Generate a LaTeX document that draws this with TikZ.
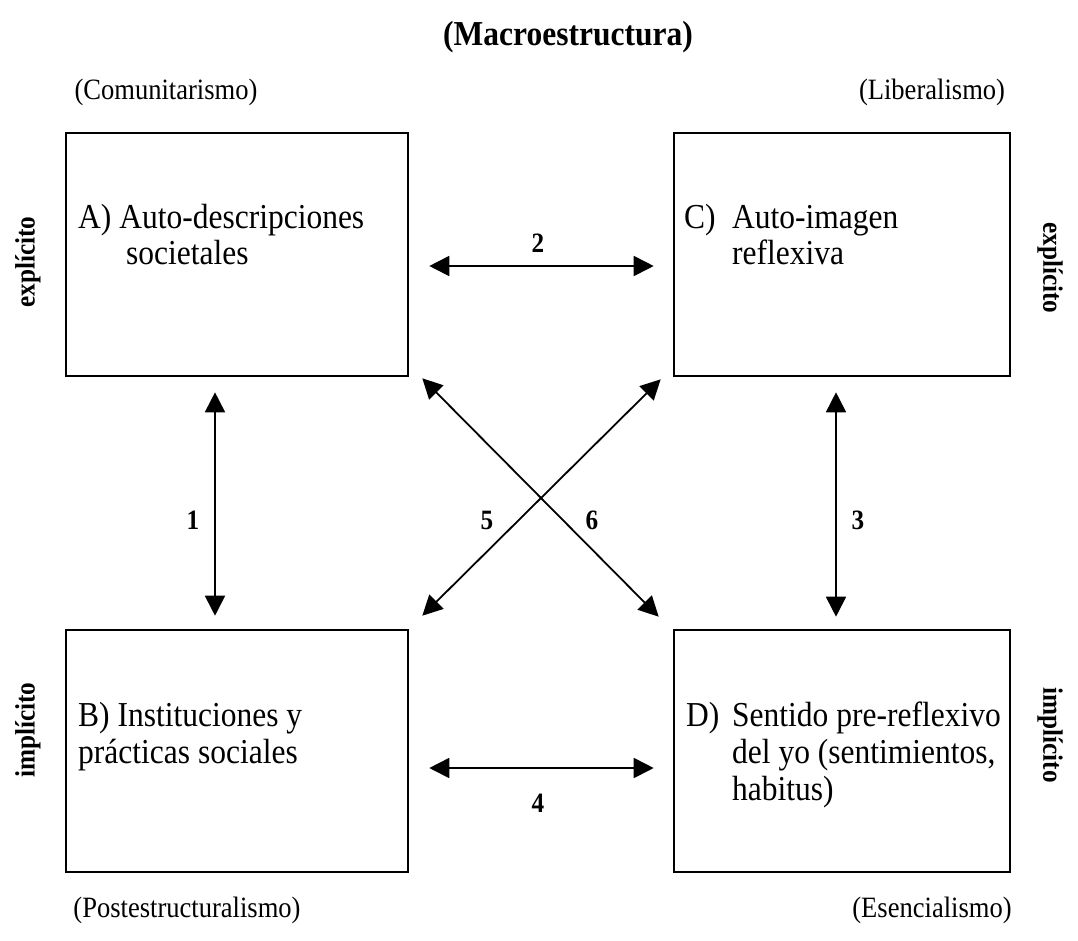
\documentclass[tikz,border=0pt]{standalone}
\usepackage{fontspec}
\setmainfont{Liberation Serif}[FakeStretch=0.9]
\usetikzlibrary{arrows.meta}
\begin{document}
\begin{tikzpicture}[x=1pt,y=-1pt,
  box/.style={draw, line width=2.6pt, inner sep=0pt},
  txt/.style={anchor=base west, inner sep=0pt, font=\fontsize{35}{41}\selectfont},
  lbl/.style={inner sep=0pt, font=\fontsize{29.5}{35}\selectfont},
  num/.style={inner sep=0pt, font=\fontsize{28}{34}\selectfont\bfseries},
  side/.style={inner sep=0pt, font=\fontsize{28}{34}\selectfont\bfseries},
  link/.style={line width=1.8pt, {Triangle[length=20pt,width=20pt]}-{Triangle[length=20pt,width=20pt]}}
]
\useasboundingbox (0,0) rectangle (1078,940);

% boxes
\node[box, minimum width=342pt, minimum height=243pt] (A) at (237,254.5) {};
\node[box, minimum width=336pt, minimum height=243pt] (C) at (842,254.5) {};
\node[box, minimum width=342pt, minimum height=242pt] (B) at (237,751) {};
\node[box, minimum width=336pt, minimum height=242pt] (D) at (842,751) {};

% box texts
\node[txt] (A1) at (78,228) {A) Auto-descripciones};
\node[txt] (A2) at (126,264) {societales};
\node[txt] (C0) at (684,228) {C)};
\node[txt] (C1) at (732,228) {Auto-imagen};
\node[txt] (C2) at (732,264) {reflexiva};
\node[txt] (B1) at (78,726) {B) Instituciones y};
\node[txt] (B2) at (78,763) {prácticas sociales};
\node[txt] (D0) at (686,726) {D)};
\node[txt] (D1) at (732,726) {Sentido pre-reflexivo};
\node[txt] (D2) at (732,763) {del yo (sentimientos,};
\node[txt] (D3) at (732,800) {habitus)};

% headings
\node[inner sep=0pt, font=\fontsize{35}{41}\selectfont\bfseries] (title) at (568,37) {(Macroestructura)};
\node[lbl] (com) at (166,92) {(Comunitarismo)};
\node[lbl] (lib) at (932,92) {(Liberalismo)};
\node[lbl] (pos) at (187,910) {(Postestructuralismo)};
\node[lbl] (ese) at (932,910) {(Esencialismo)};

% side labels
\node[side, rotate=90] (exL) at (28,262) {explícito};
\node[side, rotate=90] (imL) at (28,730) {implícito};
\node[side, rotate=-90] (exR) at (1050,268) {explícito};
\node[side, rotate=-90] (imR) at (1050,735) {implícito};

% connectors
\draw[link] ([shift={(20,11.5)}]A.east) -- ([shift={(-19,11.5)}]C.west);
\draw[link] ([shift={(20,17)}]B.east) -- ([shift={(-19,17)}]D.west);
\draw[link] ([shift={(-22,15)}]A.south) -- ([shift={(-22,-13)}]B.north);
\draw[link] ([shift={(-6,15)}]C.south) -- ([shift={(-6,-12)}]D.north);
\draw[link] ([shift={(13,1)}]A.south east) -- ([shift={(-14,-12)}]D.north west);
\draw[link] ([shift={(-12,2)}]C.south west) -- ([shift={(13,-13)}]B.north east);

% numbers
\node[num] (n2) at (538,243) {2};
\node[num] (n1) at (193,520) {1};
\node[num] (n3) at (858,520) {3};
\node[num] (n4) at (538,803) {4};
\node[num] (n5) at (487,520) {5};
\node[num] (n6) at (592,520) {6};
\end{tikzpicture}
\end{document}
